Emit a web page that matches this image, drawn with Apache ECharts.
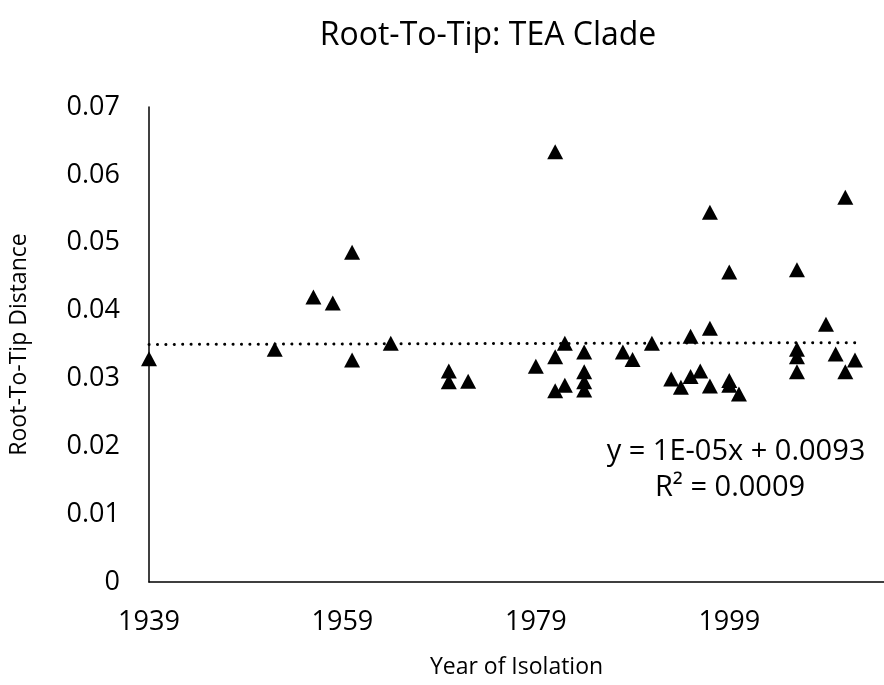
<!DOCTYPE html>
<html>
<head>
<meta charset="utf-8">
<script src="https://cdn.jsdelivr.net/npm/echarts@6/dist/echarts.min.js"></script>
<style>
  html,body{margin:0;padding:0;background:#fff;}
  #chart{width:884px;height:685px;}
</style>
</head>
<body>
<div id="chart"></div>
<script>
// ---- data ----
const years = [1939, 1952, 1956, 1958, 1960, 1960, 1964, 1970, 1970, 1972,
  1979, 1981, 1981, 1981, 1982, 1982, 1984, 1984, 1984, 1984,
  1988, 1989, 1991, 1993, 1994, 1995, 1995, 1996, 1997, 1997, 1997,
  1999, 1999, 1999, 2000, 2006, 2006, 2006, 2006, 2009, 2010, 2011, 2011, 2012];
const dist = [0.0329, 0.0343, 0.0420, 0.0411, 0.0486, 0.0327, 0.0352, 0.0311, 0.0295, 0.0296,
  0.0318, 0.0332, 0.0282, 0.0634, 0.0352, 0.0290, 0.0339, 0.0310, 0.0295, 0.0283,
  0.0339, 0.0328, 0.0352, 0.0299, 0.0287, 0.0362, 0.0303, 0.0311, 0.0374, 0.0289, 0.0545,
  0.0297, 0.0290, 0.0457, 0.0277, 0.0343, 0.0332, 0.0310, 0.0460, 0.0380, 0.0336, 0.0310, 0.0567, 0.0327];
const eqLines = ['y = 1E-05x + 0.0093', 'R² = 0.0009'];

// ---- linear trend (least squares) ----
const n = years.length;
const mx = years.reduce((s,v)=>s+v,0)/n;
const my = dist.reduce((s,v)=>s+v,0)/n;
let sxy = 0, sxx = 0;
years.forEach((x,i)=>{ sxy += (x-mx)*(dist[i]-my); sxx += (x-mx)*(x-mx); });
const slope = sxy/sxx, icpt = my - slope*mx;
const x0 = Math.min(...years), x1 = Math.max(...years);
const trend = [[x0, icpt+slope*x0], [x1, icpt+slope*x1]];

const FONT = '"Open Sans", "Noto Sans", sans-serif';
const chart = echarts.init(document.getElementById('chart'));
chart.setOption({
  animation:false,
  title:{ text:'Root-To-Tip: TEA Clade', left:483, top:15, textAlign:'center',
    textStyle:{ fontFamily:FONT, fontSize:32, fontWeight:'normal', color:'#000' } },
  grid:{ left:149, right:-6, top:107, bottom:103 },
  xAxis:{ type:'value', min:1939, max:2015, interval:20,
    name:'Year of Isolation', nameLocation:'middle', nameGap:74,
    nameTextStyle:{ fontFamily:FONT, fontSize:23, color:'#000' },
    axisLine:{ lineStyle:{ color:'#000', width:1.5 } }, axisTick:{ show:false },
    axisLabel:{ fontFamily:FONT, fontSize:27, color:'#000', margin:27, showMaxLabel:false,
      formatter:v => String(v) },
    splitLine:{ show:false } },
  yAxis:{ type:'value', min:0, max:0.07, interval:0.01,
    name:'Root-To-Tip Distance', nameLocation:'middle', nameGap:118,
    nameTextStyle:{ fontFamily:FONT, fontSize:23, color:'#000' },
    axisLine:{ show:true, lineStyle:{ color:'#000', width:1.5 } }, axisTick:{ show:false },
    axisLabel:{ fontFamily:FONT, fontSize:27, color:'#000', margin:29,
      formatter:v => v === 0 ? '0' : v.toFixed(2) },
    splitLine:{ show:false } },
  series:[
    { type:'line', data:trend, symbol:'none', silent:true,
      lineStyle:{ color:'#000', width:3, type:[0.1, 8.3], cap:'round' } },
    { type:'scatter', data:years.map((x,i)=>[x, dist[i]]), symbol:'triangle', symbolSize:[16,15],
      itemStyle:{ color:'#000', opacity:1 } }
  ],
  graphic:[
    { type:'text', x:736, y:452, style:{ text:eqLines[0], align:'center', verticalAlign:'middle',
      font:'29px "Open Sans", sans-serif', fill:'#000' } },
    { type:'text', x:730, y:488, style:{ text:eqLines[1], align:'center', verticalAlign:'middle',
      font:'29px "Open Sans", sans-serif', fill:'#000' } }
  ]
});
</script>
</body>
</html>
